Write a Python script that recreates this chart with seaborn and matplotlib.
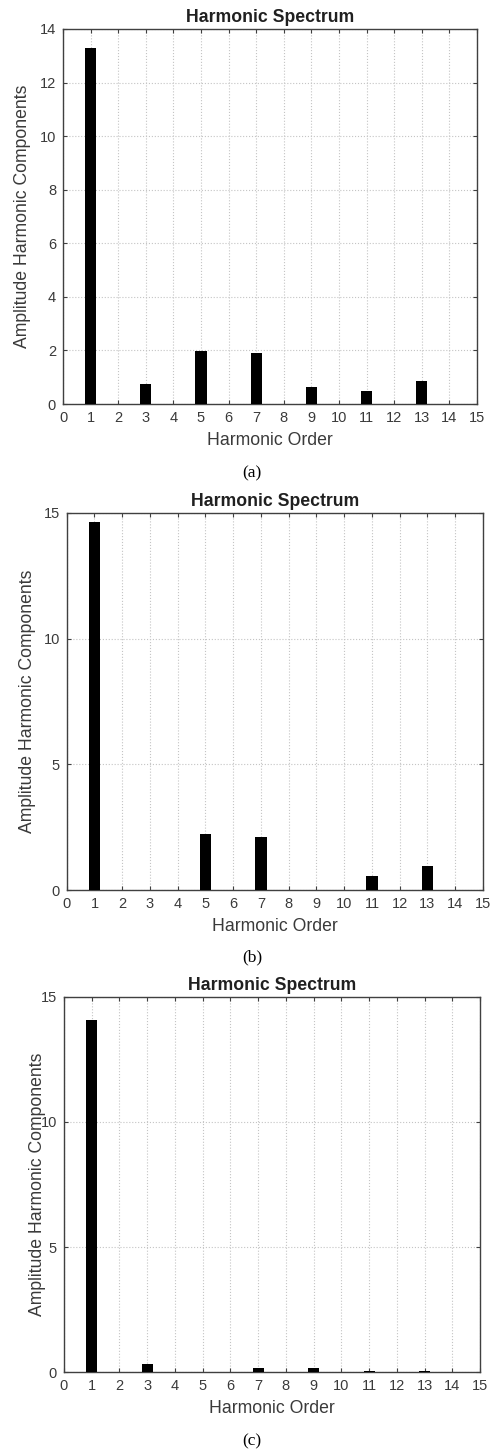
import matplotlib
matplotlib.use("Agg")
import matplotlib.pyplot as plt
import seaborn as sns
import numpy as np

# Data
orders = list(range(1, 15))
amp_a = [13.28, 0, 0.75, 0, 1.99, 0, 1.89, 0, 0.65, 0, 0.49, 0, 0.86, 0]
amp_b = [14.64, 0, 0, 0, 2.22, 0, 2.11, 0, 0, 0, 0.56, 0, 0.97, 0]
amp_c = [14.07, 0, 0.33, 0, 0.01, 0, 0.18, 0, 0.17, 0, 0.04, 0, 0.04, 0]
xticks = list(range(0, 16))
yticks_a = [0, 2, 4, 6, 8, 10, 12, 14]
yticks_bc = [0, 5, 10, 15]
captions = ["(a)", "(b)", "(c)"]
title = "Harmonic Spectrum"
xlabel = "Harmonic Order"
ylabel = "Amplitude Harmonic Components"

sns.set_theme(style="white")
plt.rcParams['font.family'] = ['Liberation Sans', 'DejaVu Sans']

W, H = 498, 1452
fig = plt.figure(figsize=(W / 100, H / 100), dpi=100)

def px_rect(l, t, r, b):
    return [l / W, 1 - b / H, (r - l) / W, (b - t) / H]

panels = [
    dict(rect=px_rect(63, 29, 477, 404), vals=amp_a, ymax=14, yt=yticks_a, ylab_x=23, cap_y=473),
    dict(rect=px_rect(66.7, 513, 483, 890), vals=amp_b, ymax=15, yt=yticks_bc, ylab_x=27, cap_y=957),
    dict(rect=px_rect(64, 996.7, 480, 1372.3), vals=amp_c, ymax=15, yt=yticks_bc, ylab_x=37, cap_y=1441),
]

edge = '#404040'
for i, p in enumerate(panels):
    ax = fig.add_axes(p['rect'])
    sns.barplot(x=orders, y=p['vals'], native_scale=True, width=0.4, color='black',
                saturation=1, linewidth=0, ax=ax, zorder=3)
    ax.set_xlim(0, 15)
    ax.set_ylim(0, p['ymax'])
    ax.set_xticks(xticks)
    ax.set_yticks(p['yt'])
    ax.grid(True, linestyle=':', color='#c4c4c4', linewidth=0.8, zorder=0)
    ax.set_axisbelow(True)
    for s in ax.spines.values():
        s.set_color(edge)
        s.set_linewidth(1.0)
        s.set_visible(True)
    ax.tick_params(direction='in', length=3, width=0.8, color=edge, labelcolor='#3a3a3a',
                   labelsize=10.5, top=True, right=True, bottom=True, left=True, pad=5)
    ax.set_title(title, fontsize=12.7, fontweight='bold', color='#202020', pad=5)
    ax.set_xlabel(xlabel, fontsize=12.7, color='#3a3a3a', labelpad=5)
    ax.set_ylabel(ylabel, fontsize=12.7, color='#3a3a3a', va='center')
    l = p['rect'][0] * W
    w = p['rect'][2] * W
    ax.yaxis.set_label_coords((p['ylab_x'] - l) / w, 0.5)
    fig.text(252 / W, 1 - p['cap_y'] / H, captions[i], ha='center', va='center',
             fontsize=12.5, family='Liberation Serif', color='black')

fig.savefig('out.png', dpi=100)
